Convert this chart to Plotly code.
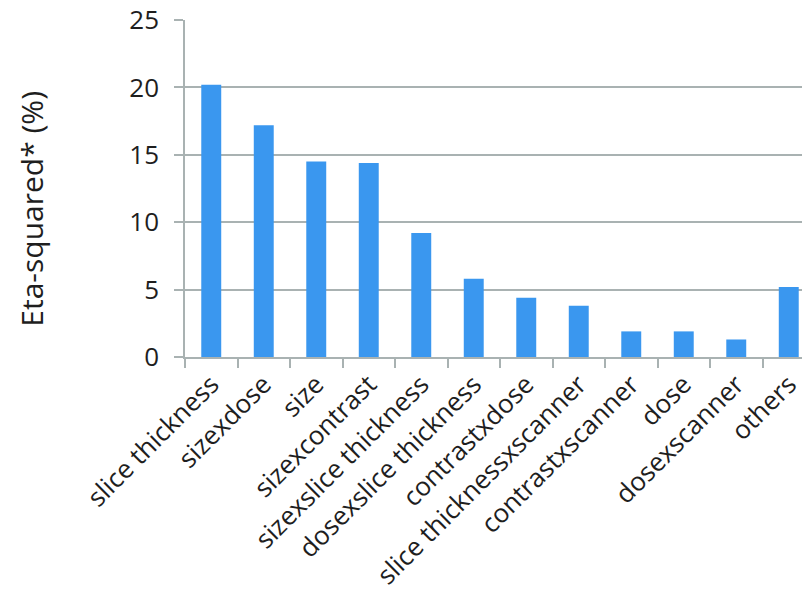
import plotly.graph_objects as go

categories = ["slice thickness", "sizexdose", "size", "sizexcontrast",
              "sizexslice thickness", "dosexslice thickness", "contrastxdose",
              "slice thicknessxscanner", "contrastxscanner", "dose",
              "dosexscanner", "others"]
eta_squared = [20.2, 17.2, 14.5, 14.4, 9.2, 5.8, 4.4, 3.8, 1.9, 1.9, 1.3, 5.2]
y_ticks = [0, 5, 10, 15, 20, 25]
y_title = "Eta-squared* (%)"

W, H = 810, 593
L, R, T, B = 177, 3, 12, 244

fig = go.Figure(go.Bar(x=categories, y=eta_squared, marker_color="#3a97ef",
                       marker_line_width=0))

grid = "#a9b2b2"
txt = "#1e1e1e"
fig.update_layout(
    width=W, height=H,
    margin=dict(l=L, r=R, t=T, b=B, autoexpand=False),
    paper_bgcolor="white", plot_bgcolor="white",
    bargap=0.62, showlegend=False,
    font=dict(family="Open Sans", color=txt),
)
fig.update_xaxes(
    tickangle=-45, tickfont=dict(size=26, color=txt, family="Open Sans"),
    showline=True, linecolor=grid, linewidth=1.5,
    ticks="outside", tickson="boundaries", ticklen=9, tickcolor=grid, tickwidth=1.5,
    showgrid=False, automargin=False, ticklabeloverflow="allow",
    ticklabelstandoff=0,
)
fig.update_yaxes(
    range=[0, 25], tickvals=y_ticks,
    tickfont=dict(size=26, color=txt, family="Open Sans"),
    showline=True, linecolor=grid, linewidth=1.5,
    ticks="outside", ticklen=9, tickcolor=grid, tickwidth=1.5,
    showgrid=True, gridcolor=grid, gridwidth=1.5,
    zeroline=False, ticklabelstandoff=10, automargin=False,
    ticklabeloverflow="allow",
)
fig.add_annotation(
    text=y_title, textangle=-90, showarrow=False,
    xref="paper", yref="paper",
    x=(1 - L) / (W - L - R), y=(349.3 - 201.5) / (H - T - B),
    xanchor="left", yanchor="middle",
    font=dict(size=30, color=txt, family="Open Sans"),
)
fig.write_html("out.html")
